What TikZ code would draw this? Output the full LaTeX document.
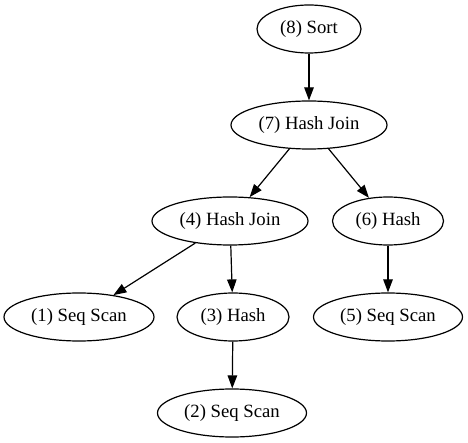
\documentclass[tikz,border=0pt]{standalone}
\usepackage{fontspec}
\setmainfont{Liberation Serif}
\usetikzlibrary{shapes.geometric,arrows.meta}
\begin{document}
\begin{tikzpicture}[x=1pt,y=-1pt]
            \tikzstyle{every node}=[font=\fontsize{18.7}{22}\selectfont]
            \tikzstyle{plan}=[draw, ellipse, line width=1.2pt, minimum height=48pt, inner sep=0pt]
            \tikzstyle{edge}=[line width=1.2pt, -{Triangle[length=13pt,width=9.5pt]}]
            \useasboundingbox (0,0) rectangle (468,443);
            \node [plan, minimum width=104pt] (sort) at (309,29) {(8) Sort};
            \node [plan, minimum width=156pt] (join7) at (309,125) {(7) Hash Join};
            \node [plan, minimum width=156pt] (join4) at (230,221) {(4) Hash Join};
            \node [plan, minimum width=111pt] (hash6) at (388,221) {(6) Hash};
            \node [plan, minimum width=150pt] (scan1) at (79,317) {(1) Seq Scan};
            \node [plan, minimum width=112pt] (hash3) at (233,317) {(3) Hash};
            \node [plan, minimum width=149pt] (scan5) at (388,317) {(5) Seq Scan};
            \node [plan, minimum width=149pt] (scan2) at (232,413) {(2) Seq Scan};
            \draw [edge] (sort) -- (join7);
            \draw [edge] (join7) -- (join4);
            \draw [edge] (join7) -- (hash6);
            \draw [edge] (join4) -- (scan1);
            \draw [edge] (join4) -- (hash3);
            \draw [edge] (hash6) -- (scan5);
            \draw [edge] (hash3) -- (scan2);
        \end{tikzpicture}
\end{document}
